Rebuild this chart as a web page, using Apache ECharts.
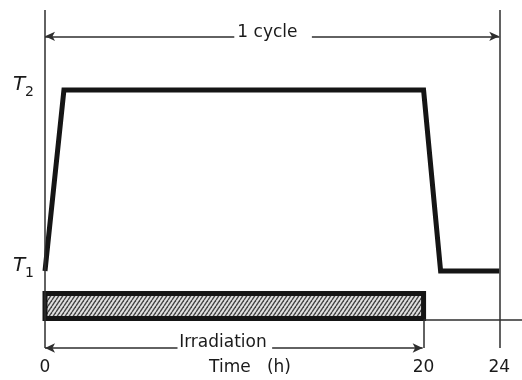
<!DOCTYPE html>
<html>
<head>
<meta charset="utf-8">
<script src="https://cdn.jsdelivr.net/npm/echarts@6/dist/echarts.min.js"></script>
<style>html,body{margin:0;padding:0;background:#fff;}#c{width:522px;height:380px;}</style>
</head>
<body>
<div id="c"></div>
<script>
// ---- data (time in hours, temperature level in arbitrary units) ----
const timeH = [0, 1, 20, 20.9, 24];
const tempLevel = [22.8, 76.3, 76.3, 22.8, 22.8];
const xTickValues = [0, 20, 24];
const levelValues = [22.8, 76.3];
const levelSubscripts = ['1', '2'];
const irradiationSpan = [0, 20];
const irradiationBand = [8.7, 16.1];
const baseLevel = 8.3;
const cycleSpan = [0, 24];
const cycleLevel = 92.2;
const cycleGap = [10.0, 14.1];
const irradiationLevel = 0;
const irradiationGap = [7.0, 12.0];
const frameTop = 100;
const xMax = 25.2;
const annotations = [
  { name: '1 cycle', value: [11.75, 93.4] },
  { name: 'Irradiation', value: [9.4, 1.6] }
];

const FONT = 'DejaVu Sans';
const INK = '#151515';
const THIN = '#2e2e2e';

// hatch pattern
const hatch = document.createElement('canvas');
hatch.width = 4; hatch.height = 6;
(function () {
  const ctx = hatch.getContext('2d');
  ctx.fillStyle = '#e2e2e2';
  ctx.fillRect(0, 0, 4, 6);
  ctx.strokeStyle = '#444';
  ctx.lineWidth = 1.4;
  for (let k = -1; k <= 1; k++) {
    ctx.beginPath();
    ctx.moveTo(k * 4, 6);
    ctx.lineTo(k * 4 + 4, 0);
    ctx.stroke();
  }
})();

function seg(x0, y0, x1, y1, s0, s1) {
  return [
    { coord: [x0, y0], symbol: s0 || 'none' },
    { coord: [x1, y1], symbol: s1 || 'none' }
  ];
}

const chart = echarts.init(document.getElementById('c'), null, { renderer: 'canvas' });
chart.setOption({
  animation: false,
  backgroundColor: '#fff',
  grid: { left: 45, right: 0, top: 10, bottom: 32, containLabel: false, outerBoundsMode: 'none' },
  xAxis: {
    type: 'value', min: 0, max: xMax,
    axisLine: { show: false }, axisTick: { show: false }, splitLine: { show: false },
    axisLabel: {
      customValues: xTickValues, margin: 11,
      fontFamily: FONT, fontSize: 17, color: '#1a1a1a'
    },
    name: 'Time   (h)', nameLocation: 'middle', nameGap: 11, nameMoveOverlap: false,
    nameTextStyle: { fontFamily: FONT, fontSize: 17, color: '#1a1a1a', padding: [0, 67, 0, 0], verticalAlign: 'top' }
  },
  yAxis: {
    type: 'value', min: 0, max: 100,
    axisLine: { show: false }, axisTick: { show: false }, splitLine: { show: false },
    axisLabel: {
      customValues: levelValues, margin: 11,
      formatter: function (v) {
        const i = levelValues.indexOf(v);
        return '{t|T}{s|' + levelSubscripts[i] + '}';
      },
      rich: {
        t: { fontFamily: FONT, fontStyle: 'italic', fontSize: 20, color: '#1a1a1a', padding: [0, 0, 10, 0] },
        s: { fontFamily: FONT, fontSize: 14, color: '#1a1a1a', padding: [5, 0, 0, 0] }
      }
    }
  },
  series: [
    {
      type: 'line', name: 'guides', data: [], silent: true, z: 1,
      markLine: {
        silent: true, animation: false,
        symbol: ['none', 'none'], symbolSize: [7, 10],
        label: { show: false },
        lineStyle: { color: THIN, width: 1.5, type: 'solid' },
        data: [
          seg(0, irradiationLevel, 0, frameTop),
          seg(cycleSpan[1], irradiationLevel, cycleSpan[1], frameTop),
          seg(irradiationSpan[1], irradiationLevel, irradiationSpan[1], baseLevel),
          seg(irradiationSpan[1], baseLevel, xMax, baseLevel),
          seg(cycleSpan[0], cycleLevel, cycleGap[0], cycleLevel, 'arrow', 'none'),
          seg(cycleGap[1], cycleLevel, cycleSpan[1], cycleLevel, 'none', 'arrow'),
          seg(irradiationSpan[0], irradiationLevel, irradiationGap[0], irradiationLevel, 'arrow', 'none'),
          seg(irradiationGap[1], irradiationLevel, irradiationSpan[1] - 0.05, irradiationLevel, 'none', 'arrow')
        ]
      }
    },
    {
      type: 'custom', name: 'irradiation', z: 3, silent: true,
      data: [[irradiationSpan[0], irradiationSpan[1], irradiationBand[0], irradiationBand[1]]],
      renderItem: function (params, api) {
        const p0 = api.coord([api.value(0), api.value(3)]);
        const p1 = api.coord([api.value(1), api.value(2)]);
        return {
          type: 'rect',
          shape: { x: p0[0], y: p0[1], width: p1[0] - p0[0], height: p1[1] - p0[1] },
          style: { fill: { image: hatch, repeat: 'repeat' }, stroke: INK, lineWidth: 5 }
        };
      }
    },
    {
      type: 'line', name: 'temperature', z: 4, silent: true,
      data: timeH.map((t, i) => [t, tempLevel[i]]),
      symbol: 'none',
      lineStyle: { color: INK, width: 5, join: 'miter', cap: 'butt' }
    },
    {
      type: 'scatter', name: 'annotations', z: 5, silent: true,
      data: annotations, symbolSize: 0,
      itemStyle: { opacity: 1 },
      label: {
        show: true, position: 'inside', formatter: '{b}',
        fontFamily: FONT, fontSize: 17, color: '#1a1a1a', opacity: 1
      }
    }
  ]
});
</script>
</body>
</html>
